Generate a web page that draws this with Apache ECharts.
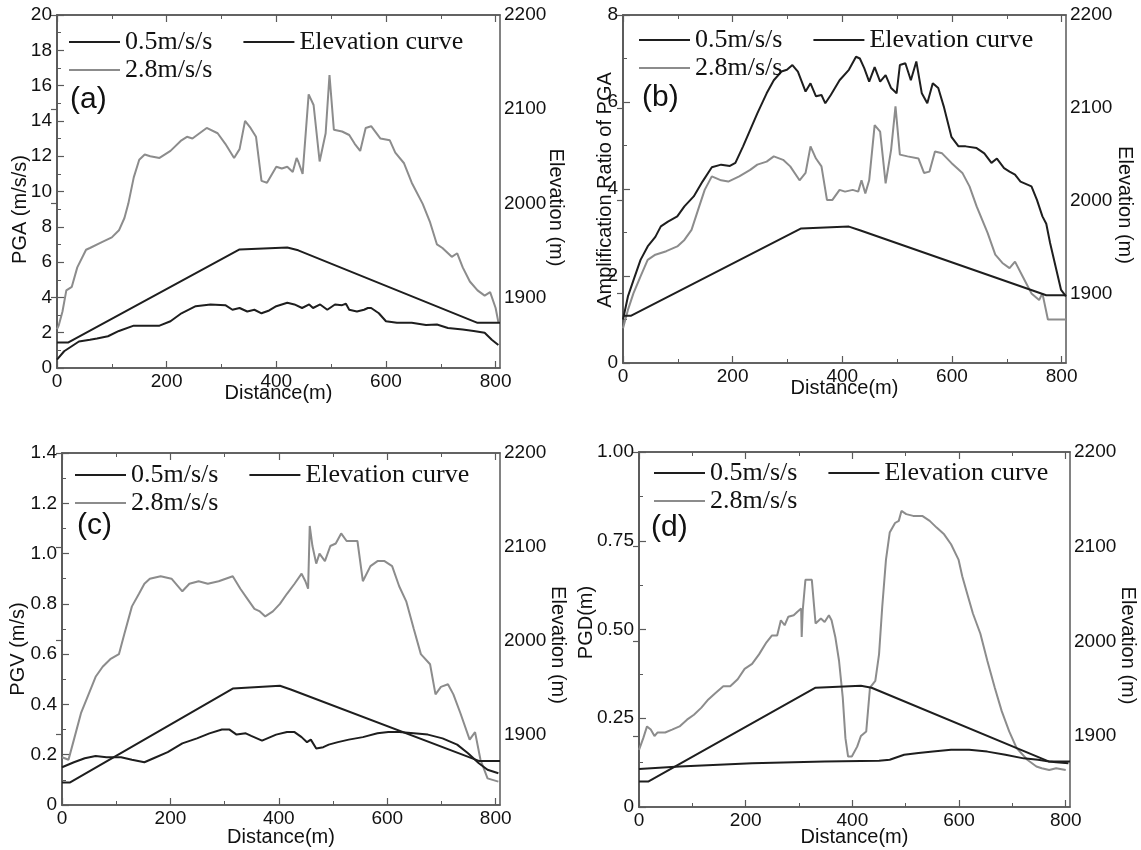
<!DOCTYPE html>
<html>
<head>
<meta charset="utf-8">
<script src="https://cdn.jsdelivr.net/npm/echarts@6/dist/echarts.min.js"></script>
<style>
  html, body { margin: 0; background: #fff; }
  #main { width: 1141px; height: 850px; }
</style>
</head>
<body>
<div id="main"></div>
<script>
// distance (m), value pairs
// (a) PGA
const pgaLow = [[0,0.47],[13,0.95],[40,1.5],[60,1.6],[73,1.67],[93,1.8],[113,2.1],[140,2.4],[160,2.4],[187,2.4],[207,2.65],[227,3.1],[253,3.5],[280,3.6],[307,3.56],[320,3.3],[333,3.4],[347,3.2],[360,3.3],[373,3.1],[387,3.26],[400,3.5],[420,3.7],[433,3.6],[447,3.4],[460,3.6],[467,3.4],[480,3.6],[493,3.3],[507,3.6],[520,3.56],[527,3.64],[533,3.3],[547,3.2],[560,3.3],[567,3.4],[573,3.4],[587,3.1],[600,2.65],[620,2.56],[647,2.56],[673,2.43],[693,2.46],[713,2.27],[740,2.18],[760,2.1],[780,2.0],[793,1.6],[805,1.3]]
const pgaHigh = [[0,2.2],[3,2.4],[10,3.2],[17,4.4],[27,4.6],[37,5.7],[53,6.7],[60,6.8],[80,7.1],[100,7.4],[113,7.8],[123,8.5],[130,9.3],[140,10.8],[150,11.8],[160,12.1],[170,12.0],[187,11.9],[207,12.3],[227,12.9],[237,13.1],[247,13.0],[273,13.6],[293,13.3],[307,12.7],[323,11.9],[333,12.4],[343,14.0],[353,13.6],[363,13.1],[373,10.6],[383,10.5],[400,11.4],[410,11.3],[420,11.4],[430,11.1],[437,11.9],[440,11.7],[448,11.0],[459,15.5],[468,14.9],[479,11.7],[490,13.3],[497,16.6],[505,13.5],[520,13.4],[533,13.2],[543,12.7],[553,12.3],[563,13.6],[573,13.7],[590,13.0],[607,12.9],[617,12.2],[633,11.6],[647,10.5],[667,9.3],[680,8.3],[693,7.0],[703,6.8],[720,6.3],[730,6.5],[740,5.7],[753,4.9],[767,4.4],[780,4.1],[790,4.3],[800,3.4],[805,2.6]]
const elevA = [[0,1852],[20,1852],[333,1951],[420,1953],[440,1950],[767,1873],[808,1873]]

// (b) amplification ratio of PGA
const ampLow = [[0,1.0],[9,1.53],[19,1.9],[32,2.37],[45,2.68],[59,2.9],[69,3.14],[82,3.25],[99,3.37],[112,3.6],[129,3.83],[145,4.17],[162,4.5],[179,4.56],[195,4.53],[205,4.6],[219,4.98],[232,5.36],[245,5.74],[262,6.2],[275,6.5],[289,6.7],[299,6.74],[309,6.85],[319,6.7],[333,6.24],[342,6.43],[352,6.13],[362,6.16],[369,5.97],[379,6.16],[395,6.5],[412,6.74],[425,7.04],[432,7.0],[440,6.78],[449,6.47],[459,6.8],[469,6.47],[479,6.62],[489,6.32],[499,6.2],[505,6.85],[515,6.89],[525,6.5],[535,6.93],[545,6.2],[555,5.97],[565,6.43],[575,6.32],[585,5.9],[599,5.2],[612,4.98],[625,4.98],[645,4.94],[659,4.82],[672,4.6],[682,4.7],[695,4.48],[705,4.4],[715,4.33],[725,4.17],[745,4.06],[755,3.75],[765,3.37],[772,3.2],[779,2.76],[789,2.22],[799,1.68],[808,1.53]]
const ampHigh = [[0,0.8],[9,1.22],[19,1.6],[32,1.99],[45,2.37],[59,2.49],[79,2.57],[99,2.68],[112,2.83],[125,3.06],[139,3.6],[149,3.98],[162,4.29],[179,4.2],[192,4.17],[212,4.29],[232,4.44],[245,4.56],[262,4.63],[275,4.75],[292,4.67],[305,4.52],[322,4.2],[333,4.37],[342,4.98],[352,4.7],[362,4.52],[372,3.75],[382,3.75],[395,3.98],[405,3.94],[419,3.98],[429,3.94],[435,4.2],[442,3.9],[449,4.2],[459,5.47],[469,5.32],[479,4.13],[489,4.9],[497,5.9],[505,4.79],[519,4.75],[539,4.7],[549,4.37],[559,4.4],[569,4.86],[582,4.82],[599,4.6],[619,4.37],[632,4.06],[645,3.6],[665,2.99],[679,2.49],[692,2.3],[705,2.18],[715,2.33],[729,1.99],[745,1.6],[759,1.45],[765,1.6],[775,1.0],[785,1.0],[808,1.0]]
const elevB = [[0,1876],[15,1876],[325,1970],[412,1972],[432,1968],[772,1898],[808,1898]]

// (c) PGV
const pgvLow = [[0,0.15],[22,0.17],[42,0.186],[62,0.195],[82,0.19],[109,0.19],[129,0.18],[152,0.17],[169,0.186],[195,0.21],[222,0.245],[249,0.265],[272,0.285],[295,0.3],[309,0.3],[322,0.28],[339,0.285],[349,0.275],[369,0.256],[395,0.28],[415,0.29],[429,0.29],[442,0.27],[452,0.25],[459,0.26],[469,0.225],[482,0.23],[492,0.24],[509,0.25],[529,0.26],[555,0.27],[582,0.285],[602,0.29],[622,0.29],[649,0.285],[675,0.28],[702,0.265],[729,0.24],[749,0.206],[769,0.166],[785,0.14],[805,0.126]]
const pgvHigh = [[0,0.19],[5,0.186],[12,0.18],[22,0.26],[35,0.365],[49,0.44],[62,0.51],[75,0.55],[89,0.58],[105,0.6],[115,0.68],[129,0.79],[142,0.84],[152,0.88],[162,0.9],[182,0.91],[202,0.9],[222,0.85],[235,0.88],[252,0.89],[269,0.88],[289,0.89],[302,0.9],[315,0.91],[329,0.86],[342,0.82],[355,0.78],[365,0.77],[375,0.75],[389,0.77],[402,0.8],[415,0.84],[429,0.88],[442,0.92],[449,0.89],[454,0.86],[457,1.11],[462,1.03],[469,0.96],[475,1.0],[485,0.97],[495,1.03],[505,1.04],[515,1.08],[525,1.05],[545,1.05],[555,0.89],[569,0.95],[582,0.97],[595,0.97],[609,0.95],[622,0.87],[635,0.81],[649,0.7],[662,0.6],[679,0.56],[689,0.44],[699,0.47],[712,0.48],[722,0.44],[735,0.365],[752,0.26],[762,0.29],[772,0.18],[785,0.106],[805,0.093]]
const elevC = [[0,1849],[15,1849],[315,1949],[402,1952],[422,1948],[769,1872],[808,1872]]

// (d) PGD
const pgdLow = [[0,0.107],[76,0.114],[212,0.123],[348,0.128],[450,0.13],[470,0.133],[497,0.147],[524,0.152],[551,0.156],[585,0.161],[619,0.161],[653,0.156],[687,0.147],[721,0.137],[748,0.133],[769,0.128],[782,0.126],[805,0.123]]
const pgdHigh = [[0,0.161],[8,0.194],[15,0.227],[22,0.218],[29,0.2],[35,0.21],[49,0.21],[62,0.218],[76,0.227],[90,0.246],[103,0.26],[117,0.28],[130,0.303],[144,0.322],[158,0.34],[171,0.34],[185,0.36],[198,0.389],[212,0.403],[225,0.43],[239,0.464],[249,0.483],[259,0.483],[266,0.526],[273,0.512],[280,0.536],[290,0.54],[297,0.55],[304,0.559],[305,0.479],[307,0.555],[312,0.64],[324,0.64],[331,0.517],[341,0.531],[348,0.521],[356,0.54],[361,0.526],[368,0.479],[375,0.412],[382,0.308],[387,0.194],[392,0.142],[399,0.142],[409,0.17],[416,0.2],[426,0.213],[433,0.336],[443,0.355],[450,0.43],[456,0.564],[463,0.697],[470,0.773],[480,0.8],[487,0.806],[492,0.834],[501,0.825],[514,0.82],[531,0.82],[545,0.806],[558,0.787],[572,0.768],[585,0.74],[599,0.697],[606,0.65],[616,0.597],[626,0.545],[640,0.488],[653,0.412],[667,0.336],[680,0.27],[694,0.213],[708,0.166],[728,0.133],[745,0.114],[755,0.109],[769,0.104],[782,0.109],[800,0.104]]
const elevD = [[0,1852],[18,1852],[331,1951],[416,1953],[436,1951],[769,1873],[808,1873]]

const distTicks = [0, 200, 400, 600, 800]
const elevTicks = [1900, 2000, 2100, 2200]

const BLACK = '#1e1e1e'
const GRAY = '#8c8c8c'
const AXIS = '#5a5a5a'
const SANS = 'Liberation Sans, Arial, sans-serif'
const SERIF = 'Liberation Serif, Times New Roman, serif'

const panels = [
    {tag:'(a)', tagAt:[70,85], grid:{left:57, top:15, width:443, height:353},
     yName:'PGA (m/s/s)', yMax:20, yStep:2, digits:0, yGap:27, yPad:[0,36,0,0],
     elevGap:46, xGap:15, legend:[69,29],
     low:pgaLow, high:pgaHigh, elev:elevA},
    {tag:'(b)', tagAt:[642,83], grid:{left:623, top:15, width:443, height:348},
     yName:'Amplification Ratio of PGA', yMax:8, yStep:2, digits:0, yGap:8, yPad:[0,2,0,0],
     elevGap:49, xGap:15, legend:[639,27],
     low:ampLow, high:ampHigh, elev:elevB},
    {tag:'(c)', tagAt:[77,511], grid:{left:62, top:453, width:438, height:352},
     yName:'PGV (m/s)', yMax:1.4, yStep:0.2, digits:1, yGap:34, yPad:[0,40,0,0],
     elevGap:48, xGap:22, legend:[75,462],
     low:pgvLow, high:pgvHigh, elev:elevC},
    {tag:'(d)', tagAt:[651,513], grid:{left:639, top:452, width:431, height:355},
     yName:'PGD(m)', yMax:1, yStep:0.25, digits:2, yGap:43, yPad:[0,0,0,14],
     elevGap:48, xGap:20, legend:[654,460],
     low:pgdLow, high:pgdHigh, elev:elevD}
]

const option = {
    animation: false,
    backgroundColor: '#fff',
    title: [], grid: [], xAxis: [], yAxis: [], legend: [], series: []
}

panels.forEach((p, i) => {
    option.grid.push(Object.assign({show:true, borderColor:AXIS, borderWidth:1.5,
        containLabel:false, outerBoundsMode:'none'}, p.grid))
    option.title.push({text:p.tag, left:p.tagAt[0], top:p.tagAt[1], padding:0,
        textStyle:{fontFamily:SANS, fontSize:30, fontWeight:'normal', color:'#111'}})

    const tickStyle = {lineStyle:{color:AXIS, width:1.2}}
    // bottom distance axis
    option.xAxis.push({
        type:'value', gridIndex:i, position:'bottom', min:0, max:808, interval:200,
        name:'Distance(m)', nameLocation:'middle', nameGap:p.xGap, nameMoveOverlap:false,
        nameTextStyle:{fontFamily:SANS, fontSize:20, color:'#111', verticalAlign:'top'},
        axisLine:{lineStyle:{color:AXIS, width:1.5}},
        axisTick:Object.assign({inside:true, length:7, customValues:distTicks}, tickStyle),
        minorTick:{show:true, splitNumber:2, length:4, lineStyle:{color:AXIS}},
        axisLabel:{customValues:distTicks, margin:4, fontFamily:SANS, fontSize:19, color:'#111'},
        splitLine:{show:false}
    })
    // mirrored ticks on the top edge
    option.xAxis.push({
        type:'value', gridIndex:i, position:'top', min:0, max:808, interval:200,
        axisLine:{lineStyle:{color:AXIS, width:1.5}},
        axisTick:Object.assign({inside:true, length:7, customValues:distTicks}, tickStyle),
        minorTick:{show:true, splitNumber:2, length:4, lineStyle:{color:AXIS}},
        axisLabel:{show:false}, splitLine:{show:false}
    })
    option.yAxis.push({
        type:'value', gridIndex:i, position:'left', min:0, max:p.yMax, interval:p.yStep,
        name:p.yName, nameLocation:'middle', nameGap:p.yGap, nameRotate:90, nameMoveOverlap:false,
        nameTextStyle:{fontFamily:SANS, fontSize:20, color:'#111', padding:p.yPad},
        axisLine:{show:true, lineStyle:{color:AXIS, width:1.5}},
        axisTick:Object.assign({inside:true, length:7}, tickStyle),
        minorTick:{show:true, splitNumber:2, length:4, lineStyle:{color:AXIS}},
        axisLabel:{margin:5, fontFamily:SANS, fontSize:19, color:'#111',
            formatter:v => v === 0 ? '0' : v.toFixed(p.digits)},
        splitLine:{show:false}
    })
    option.yAxis.push({
        type:'value', gridIndex:i, position:'right', min:1825, max:2200,
        name:'Elevation (m)', nameLocation:'middle', nameGap:p.elevGap, nameRotate:-90, nameMoveOverlap:false,
        nameTextStyle:{fontFamily:SANS, fontSize:20, color:'#111', padding:[0,0,0,32]},
        axisLine:{show:true, lineStyle:{color:AXIS, width:1.5}},
        axisTick:Object.assign({inside:true, length:6, customValues:elevTicks}, tickStyle),
        axisLabel:{customValues:elevTicks, margin:4, fontFamily:SANS, fontSize:19, color:'#111',
            formatter:v => String(v)},
        splitLine:{show:false}
    })

    const legendBase = {
        orient:'horizontal', icon:'rect', itemWidth:51, itemHeight:2, itemGap:31, padding:0,
        textStyle:{fontFamily:SERIF, fontSize:26, color:'#111'},
        selectedMode:false
    }
    option.legend.push(Object.assign({}, legendBase,
        {left:p.legend[0], top:p.legend[1], data:['0.5m/s/s', 'Elevation curve']}))
    option.legend.push(Object.assign({}, legendBase,
        {left:p.legend[0], top:p.legend[1] + 28, data:['2.8m/s/s']}))

    const line = (name, data, color, yIdx) => ({
        name, type:'line', data, xAxisIndex:2 * i, yAxisIndex:2 * i + yIdx,
        symbol:'none', smooth:false, lineStyle:{color, width:2}, itemStyle:{color}
    })
    option.series.push(line('2.8m/s/s', p.high, GRAY, 0))
    option.series.push(line('0.5m/s/s', p.low, BLACK, 0))
    option.series.push(line('Elevation curve', p.elev, BLACK, 1))
})

const chart = echarts.init(document.getElementById('main'), null, {renderer:'canvas'})
chart.setOption(option)
</script>
</body>
</html>
